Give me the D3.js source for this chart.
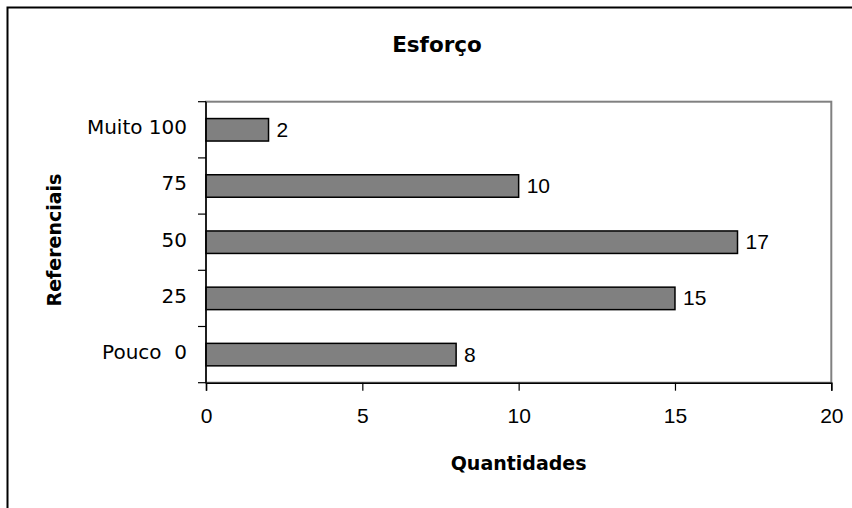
<!DOCTYPE html>
<html>
<head>
<meta charset="utf-8">
<script src="https://cdn.jsdelivr.net/npm/d3@7"></script>
<style>
  html, body { margin: 0; padding: 0; background: #fff; }
  svg { display: block; }
</style>
</head>
<body>
<svg id="chart" width="852" height="508"></svg>
<script>
// Categories, top to bottom as drawn
const categories = ["Muito 100", "75", "50", "25", "Pouco  0"];
const quantities = [2, 10, 17, 15, 8];
const xTicks = [0, 5, 10, 15, 20];

const chartTitle = "Esforço";
const xTitle = "Quantidades";
const yTitle = "Referenciais";

const svg = d3.select("#chart");
const plot = { left: 206, top: 101.7, right: 831.3, bottom: 382.7 };

const x = d3.scaleLinear().domain([0, 20]).range([plot.left, plot.right]);
const y = d3.scaleBand().domain(categories).range([plot.top, plot.bottom]).paddingInner(0.6).paddingOuter(0.3);
const yEdges = d3.scaleLinear().domain([0, categories.length]).range([plot.top, plot.bottom]);

// Outer frame
svg.append("rect")
  .attr("x", 7.5).attr("y", 7.5).attr("width", 900).attr("height", 600)
  .attr("fill", "#fff").attr("stroke", "#000").attr("stroke-width", 2);

// Plot area border
svg.append("rect")
  .attr("x", plot.left).attr("y", plot.top)
  .attr("width", plot.right - plot.left).attr("height", plot.bottom - plot.top)
  .attr("fill", "#fff").attr("stroke", "#808080").attr("stroke-width", 2);

// Bars
svg.append("g").selectAll("rect").data(quantities).join("rect")
  .attr("x", x(0))
  .attr("y", (d, i) => y(categories[i]))
  .attr("width", d => x(d) - x(0))
  .attr("height", y.bandwidth())
  .attr("fill", "#808080")
  .attr("stroke", "#000")
  .attr("stroke-width", 1.5);

// Value labels
svg.append("g").selectAll("text").data(quantities).join("text")
  .attr("x", d => x(d) + 8)
  .attr("y", (d, i) => y(categories[i]) + y.bandwidth() / 2)
  .attr("dy", "0.33em")
  .attr("font-family", "'Liberation Sans', Arial, sans-serif")
  .attr("font-size", 21)
  .attr("fill", "#000")
  .text(d => d);

// Y axis line and ticks at category boundaries
const yAxis = svg.append("g");
yAxis.append("line")
  .attr("x1", plot.left).attr("x2", plot.left)
  .attr("y1", plot.top).attr("y2", plot.bottom)
  .attr("stroke", "#000").attr("stroke-width", 1.5);
yAxis.selectAll("line.tick").data(d3.range(categories.length + 1)).join("line")
  .attr("class", "tick")
  .attr("x1", plot.left - 8).attr("x2", plot.left)
  .attr("y1", d => yEdges(d)).attr("y2", d => yEdges(d))
  .attr("stroke", "#000").attr("stroke-width", 1.2);
yAxis.selectAll("text").data(categories).join("text")
  .attr("x", plot.left - 19)
  .attr("y", d => y(d) + y.bandwidth() / 2)
  .attr("dy", "0.22em")
  .attr("text-anchor", "end")
  .attr("font-family", "'DejaVu Sans', sans-serif")
  .attr("font-size", 20)
  .style("white-space", "pre")
  .attr("fill", "#000")
  .text(d => d);

// X axis
const xAxis = svg.append("g").attr("transform", `translate(0,${plot.bottom})`)
  .call(d3.axisBottom(x).tickValues(xTicks).tickSize(8).tickPadding(17).tickFormat(d3.format("d")));
xAxis.select(".domain").attr("stroke", "#000").attr("stroke-width", 1.5);
xAxis.selectAll(".tick line").attr("stroke", "#000").attr("stroke-width", 1.2);
xAxis.selectAll(".tick text")
  .attr("font-family", "'Liberation Sans', Arial, sans-serif")
  .attr("font-size", 21)
  .attr("fill", "#000");

// Titles
svg.append("text")
  .attr("x", 437).attr("y", 51.7)
  .attr("text-anchor", "middle")
  .attr("font-family", "'DejaVu Sans', sans-serif")
  .attr("font-weight", "bold")
  .attr("font-size", 21.5)
  .text(chartTitle);

svg.append("text")
  .attr("x", (plot.left + plot.right) / 2).attr("y", 470)
  .attr("text-anchor", "middle")
  .attr("font-family", "'DejaVu Sans', sans-serif")
  .attr("font-weight", "bold")
  .attr("font-size", 19)
  .text(xTitle);

svg.append("text")
  .attr("transform", "translate(60.7,240) rotate(-90)")
  .attr("text-anchor", "middle")
  .attr("font-family", "'DejaVu Sans', sans-serif")
  .attr("font-weight", "bold")
  .attr("font-size", 19)
  .text(yTitle);
</script>
</body>
</html>
